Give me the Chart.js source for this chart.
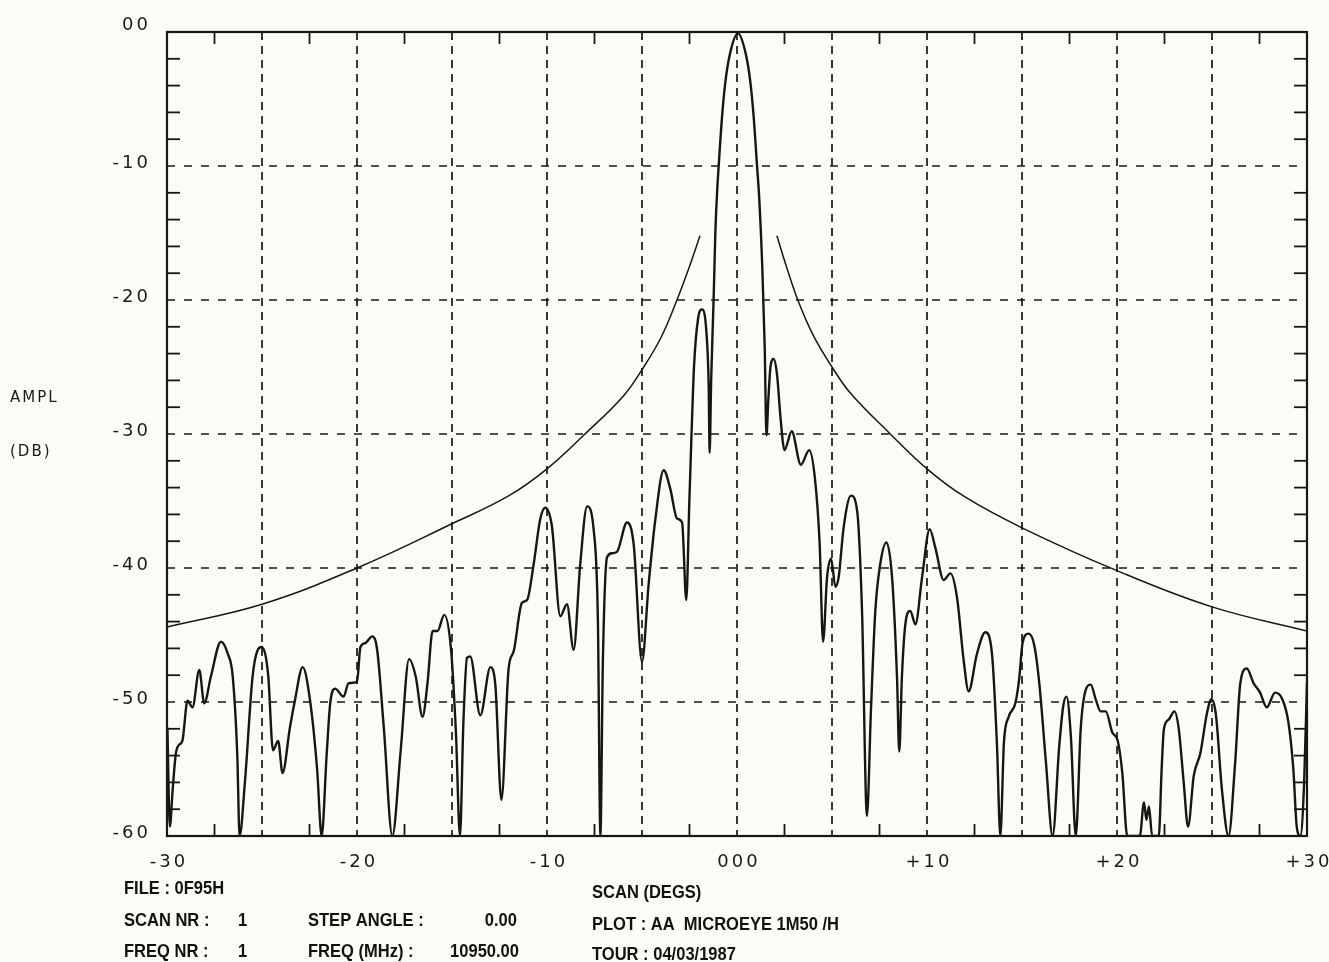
<!DOCTYPE html>
<html>
<head>
<meta charset="utf-8">
<script src="https://cdn.jsdelivr.net/npm/chart.js@4.4.0/dist/chart.umd.min.js"></script>
<style>
html, body { margin: 0; padding: 0; background: #fcfcf7; }
canvas { display: block; }
</style>
</head>
<body>
<canvas id="patternChart" width="1329" height="962"></canvas>
<script>
const scanDeg = [
  -29.98, -29.85, -29.70, -29.54, -29.37, -29.19, -28.92, -28.66, -28.30, -28.04,
  -27.69, -27.16, -26.80, -26.54, -26.30, -26.18, -25.90, -25.48, -25.04, -24.68,
  -24.42, -24.15, -23.92, -23.53, -23.27, -22.86, -22.47, -22.10, -21.86, -21.60,
  -21.41, -21.15, -20.71, -20.44, -20.00, -19.82, -19.56, -19.20, -18.94, -18.59,
  -18.14, -17.70, -17.26, -16.91, -16.55, -16.29, -16.02, -15.76, -15.41, -15.05,
  -14.79, -14.58, -14.40, -14.21, -14.04, -13.51, -12.98, -12.72, -12.40, -12.02,
  -11.75, -11.32, -11.05, -10.70, -10.35, -10.09, -9.74, -9.30, -8.95, -8.60,
  -8.25, -7.89, -7.54, -7.32, -7.19, -7.06, -6.84, -6.58, -6.32, -5.79,
  -5.44, -5.00, -4.65, -4.30, -3.86, -3.51, -3.16, -2.89, -2.67, -2.51,
  -2.40, -2.26, -2.05, -1.84, -1.61, -1.49, -1.44, -1.36, -1.23, -1.14,
  -1.06, -0.96, -0.78, -0.61, -0.35, 0.05, 0.44, 0.70, 0.87, 1.05,
  1.17, 1.33, 1.46, 1.55, 1.65, 1.77, 1.93, 2.11, 2.28, 2.50,
  2.88, 3.36, 3.80, 4.10, 4.35, 4.53, 4.74, 4.95, 5.18, 5.35,
  5.61, 6.00, 6.32, 6.58, 6.84, 7.05, 7.28, 7.54, 7.86, 8.16,
  8.42, 8.54, 8.68, 8.86, 9.12, 9.39, 9.74, 10.14, 10.44, 10.88,
  11.23, 11.58, 11.93, 12.19, 12.63, 13.07, 13.42, 13.68, 13.86, 14.05,
  14.30, 14.65, 14.85, 15.03, 15.35, 15.65, 15.91, 16.26, 16.61, 16.96,
  17.17, 17.34, 17.57, 17.83, 18.09, 18.27, 18.62, 18.88, 19.14, 19.41,
  19.76, 20.02, 20.28, 20.54, 21.20, 21.42, 21.55, 21.68, 21.85, 22.20,
  22.35, 22.47, 22.73, 23.02, 23.25, 23.51, 23.74, 24.04, 24.39, 24.74,
  24.97, 25.21, 25.52, 25.87, 26.22, 26.49, 26.83, 27.19, 27.53, 27.88,
  28.32, 28.67, 29.02, 29.28, 29.46, 29.65, 29.85, 30.00
];
const amplDb = [
  -51.9, -59.3, -56.5, -53.9, -53.2, -52.9, -49.9, -50.4, -47.6, -50.1,
  -48.1, -45.5, -46.4, -48.1, -54.0, -60.0, -56.0, -47.9, -45.9, -47.9,
  -53.6, -52.9, -55.3, -51.9, -49.9, -47.4, -49.9, -55.0, -60.0, -54.0,
  -50.1, -49.0, -49.6, -48.6, -48.5, -45.9, -45.6, -45.1, -46.1, -51.9,
  -60.0, -53.6, -46.8, -48.1, -51.1, -48.6, -44.7, -44.7, -43.5, -46.1,
  -52.4, -60.0, -51.5, -46.7, -46.6, -51.0, -47.4, -48.7, -57.3, -47.5,
  -46.2, -42.6, -42.4, -39.7, -36.3, -35.5, -36.9, -43.6, -42.7, -46.1,
  -39.7, -35.4, -37.2, -44.0, -60.0, -47.0, -39.2, -38.9, -38.8, -36.6,
  -38.2, -47.0, -41.2, -36.4, -32.7, -34.1, -36.3, -36.6, -42.4, -35.1,
  -30.3, -24.9, -21.4, -20.7, -22.4, -26.4, -31.4, -26.0, -19.9, -15.0,
  -12.3, -9.9, -6.2, -3.7, -1.5, -0.1, -1.5, -3.7, -6.2, -9.9,
  -12.4, -17.5, -23.6, -30.1, -27.4, -24.9, -24.4, -25.6, -28.6, -31.2,
  -29.8, -32.3, -31.2, -33.3, -38.2, -45.5, -40.7, -39.3, -41.4, -40.7,
  -37.0, -34.6, -35.7, -43.2, -58.5, -50.6, -43.2, -39.7, -38.1, -40.7,
  -48.1, -53.7, -48.1, -44.2, -43.2, -44.2, -40.7, -37.1, -38.5, -40.9,
  -40.4, -42.2, -46.9, -49.2, -46.4, -44.8, -46.4, -53.1, -60.0, -53.0,
  -51.1, -50.1, -48.3, -45.6, -44.9, -45.8, -48.6, -54.5, -60.0, -53.3,
  -50.3, -49.6, -52.5, -60.0, -52.0, -49.6, -48.7, -49.8, -50.7, -50.7,
  -52.3, -52.8, -55.3, -60.0, -60.0, -57.5, -58.8, -57.8, -60.0, -60.0,
  -55.0, -52.0, -51.3, -50.7, -52.0, -56.0, -59.3, -55.5, -53.8, -50.8,
  -49.8, -51.0, -56.5, -60.0, -54.5, -48.6, -47.5, -48.6, -49.3, -50.4,
  -49.3, -49.7, -51.5, -55.0, -59.3, -60.0, -56.0, -48.5
];

// reference envelope, two branches
const envLeftDeg = [-30, -25, -20, -15, -12, -10, -8, -6, -5, -4, -3.16, -2.5, -1.95];
const envLeftDb = [-44.4, -42.7, -40.0, -36.7, -34.6, -32.6, -30.0, -27.2, -25.2, -22.8, -20.0, -17.5, -15.2];
const envRightDeg = [2.1, 2.6, 3.2, 4, 5, 6, 8, 10, 12, 15, 20, 25, 30];
const envRightDb = [-15.2, -17.5, -20.0, -22.6, -25.0, -27.0, -29.9, -32.6, -34.7, -37.0, -40.2, -42.9, -44.7];

const xLabelVals = [-30, -20, -10, 0, 10, 20, 30];
const xLabelText = ['-30', '-20', '-10', '000', '+10', '+20', '+30'];
const yLabelVals = [0, -10, -20, -30, -40, -50, -60];
const yLabelText = ['00', '-10', '-20', '-30', '-40', '-50', '-60'];

const ink = '#161616';
const toPoints = (xs, ys) => xs.map((v, i) => ({ x: v, y: ys[i] }));

function seg(ctx, x1, y1, x2, y2) {
  ctx.beginPath();
  ctx.moveTo(x1, y1);
  ctx.lineTo(x2, y2);
  ctx.stroke();
}

// condensed bold text: no narrow face installed, so squeeze it
function narrowText(ctx, text, x, y, align) {
  const sx = 0.87;
  ctx.save();
  ctx.translate(x, y);
  ctx.scale(sx, 1);
  ctx.textAlign = align || 'left';
  ctx.fillText(text, 0, 0);
  ctx.restore();
}

const plotDecor = {
  id: 'plotDecor',
  beforeDatasetsDraw(chart) {
    const { ctx, chartArea: a, scales: { x, y } } = chart;
    ctx.save();
    ctx.strokeStyle = ink;
    ctx.lineWidth = 1.7;
    ctx.setLineDash([8, 6]);
    for (let v = -25; v <= 25; v += 5) {
      const px = x.getPixelForValue(v);
      seg(ctx, px, a.top, px, a.bottom);
    }
    ctx.setLineDash([8, 9]);
    for (let v = -10; v >= -50; v -= 10) {
      const py = y.getPixelForValue(v);
      seg(ctx, a.left, py, a.right, py);
    }
    ctx.setLineDash([]);
    ctx.lineWidth = 1.8;
    for (let v = -27.5; v < 30; v += 5) {
      const px = x.getPixelForValue(v);
      seg(ctx, px, a.top, px, a.top + 12);
      seg(ctx, px, a.bottom, px, a.bottom - 12);
    }
    for (let v = -2; v > -60; v -= 2) {
      if (v % 10 === 0) continue;
      const py = y.getPixelForValue(v);
      seg(ctx, a.left, py, a.left + 13, py);
      seg(ctx, a.right, py, a.right - 13, py);
    }
    ctx.restore();
  },
  afterDatasetsDraw(chart) {
    const { ctx, chartArea: a } = chart;
    ctx.save();
    ctx.strokeStyle = ink;
    ctx.lineWidth = 2.2;
    ctx.strokeRect(a.left, a.top, a.right - a.left, a.bottom - a.top);
    ctx.restore();
  },
  afterDraw(chart) {
    const { ctx, scales: { x, y } } = chart;
    ctx.save();
    ctx.fillStyle = '#1a1a1a';
    ctx.font = '18px "DejaVu Sans", sans-serif';
    ctx.letterSpacing = '3px';
    ctx.textBaseline = 'middle';
    ctx.textAlign = 'right';
    yLabelVals.forEach((v, i) => {
      const off = v === 0 ? -7 : -3;
      ctx.fillText(yLabelText[i], 151, y.getPixelForValue(v) + off);
    });
    ctx.textAlign = 'center';
    xLabelVals.forEach((v, i) => {
      ctx.fillText(xLabelText[i], x.getPixelForValue(v) + 2, 862);
    });

    ctx.font = '15px "DejaVu Sans", sans-serif';
    ctx.letterSpacing = '2px';
    ctx.textAlign = 'left';
    ctx.fillText('AMPL', 10, 398);
    ctx.fillText('(DB)', 10, 452);

    ctx.letterSpacing = '0px';
    ctx.font = 'bold 19px "Liberation Sans", Arial, sans-serif';
    ctx.fillStyle = '#111';
    narrowText(ctx, 'FILE : 0F95H', 124, 889);
    narrowText(ctx, 'SCAN NR :', 124, 921);
    narrowText(ctx, 'FREQ NR :', 124, 952);
    narrowText(ctx, '1', 238, 921);
    narrowText(ctx, '1', 238, 952);
    narrowText(ctx, 'STEP ANGLE :', 308, 921);
    narrowText(ctx, 'FREQ (MHz) :', 308, 952);
    narrowText(ctx, 'SCAN (DEGS)', 592, 893);
    narrowText(ctx, 'PLOT : AA  MICROEYE 1M50 /H', 592, 925);
    narrowText(ctx, 'TOUR : 04/03/1987', 592, 955);
    narrowText(ctx, '0.00', 517, 921, 'right');
    narrowText(ctx, '10950.00', 519, 952, 'right');
    ctx.restore();
  }
};

const lineStyle = {
  borderColor: ink,
  pointRadius: 0,
  fill: false
};

new Chart(document.getElementById('patternChart'), {
  type: 'line',
  data: {
    datasets: [
      { ...lineStyle, label: 'AMPL', data: toPoints(scanDeg, amplDb), borderWidth: 2.4, cubicInterpolationMode: 'monotone' },
      { ...lineStyle, label: 'env L', data: toPoints(envLeftDeg, envLeftDb), borderWidth: 1.5, tension: 0.4 },
      { ...lineStyle, label: 'env R', data: toPoints(envRightDeg, envRightDb), borderWidth: 1.5, tension: 0.4 }
    ]
  },
  options: {
    responsive: false,
    animation: false,
    layout: { padding: { left: 167, right: 22, top: 32, bottom: 126 } },
    scales: {
      x: { type: 'linear', min: -30, max: 30, display: false },
      y: { type: 'linear', min: -60, max: 0, display: false }
    },
    plugins: { legend: { display: false }, tooltip: { enabled: false } }
  },
  plugins: [plotDecor]
});
</script>
</body>
</html>
